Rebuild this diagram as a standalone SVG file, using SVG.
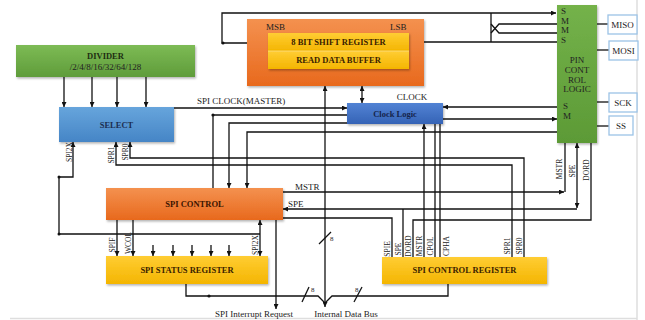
<svg xmlns="http://www.w3.org/2000/svg" width="645" height="320" viewBox="0 0 645 320">
<defs>
<linearGradient id="gGreen" x1="0" y1="0" x2="0" y2="1"><stop offset="0" stop-color="#7dbb55"/><stop offset="1" stop-color="#5f9c3a"/></linearGradient>
<linearGradient id="gPin" x1="0" y1="0" x2="0" y2="1"><stop offset="0" stop-color="#74b24a"/><stop offset="1" stop-color="#5c9a36"/></linearGradient>
<linearGradient id="gBlue" x1="0" y1="0" x2="0" y2="1"><stop offset="0" stop-color="#67a5dc"/><stop offset="1" stop-color="#4585c6"/></linearGradient>
<linearGradient id="gBlue2" x1="0" y1="0" x2="0" y2="1"><stop offset="0" stop-color="#5283d4"/><stop offset="1" stop-color="#3563b6"/></linearGradient>
<linearGradient id="gOrange" x1="0" y1="0" x2="0" y2="1"><stop offset="0" stop-color="#f4914f"/><stop offset="1" stop-color="#e8691d"/></linearGradient>
<linearGradient id="gYellow" x1="0" y1="0" x2="0" y2="1"><stop offset="0" stop-color="#ffcd34"/><stop offset="1" stop-color="#f4b500"/></linearGradient>
<filter id="sh" x="-10%" y="-10%" width="120%" height="130%"><feDropShadow dx="1" dy="1.5" stdDeviation="1" flood-color="#000" flood-opacity="0.3"/></filter>
<marker id="ah" viewBox="0 0 8 8" refX="8" refY="4" markerWidth="5" markerHeight="5" markerUnits="userSpaceOnUse" orient="auto-start-reverse"><path d="M0,0 L8,4 L0,8 z" fill="#111"/></marker>
</defs>
<style>
.ln{fill:none;stroke:#111;stroke-width:1.3}
.ar{marker-end:url(#ah)}
.ar2{marker-start:url(#ah);marker-end:url(#ah)}
.pg{fill:none;stroke:#dedede;stroke-width:1.5}
.t{font-family:"Liberation Serif","Times New Roman",serif;font-size:9px;fill:#222}
.tb{font-family:"Liberation Serif","Times New Roman",serif;font-size:8.5px;font-weight:bold;text-anchor:middle}
.tr{font-family:"Liberation Serif","Times New Roman",serif;font-size:7.5px;fill:#222;text-anchor:middle}
.c{text-anchor:middle}
.dot{fill:#111}
.pinbox{fill:#fff;stroke:#9cc3e6;stroke-width:1.3}
</style>
<rect width="645" height="320" fill="#fff"/>
<line class="pg" x1="637" y1="0" x2="637" y2="320"/>
<line class="pg" x1="10" y1="318.5" x2="637" y2="318.5"/>

<g id="connectors">
<!-- divider to select -->
<path class="ln ar" d="M64,77 V107"/>
<path class="ln ar" d="M92,77 V107"/>
<path class="ln ar" d="M117,77 V107"/>
<path class="ln ar" d="M146,77 V107"/>
<!-- select / spi control to clock logic -->
<path class="ln ar" d="M174,108 H347"/>
<path class="ln" d="M347,115 H213 V188"/>
<circle class="dot" cx="213" cy="115" r="1.6"/>
<path class="ln ar" d="M347,123 H229 V188"/>
<path class="ln ar" d="M557,132 H247 V188"/>
<!-- pin control to/from clock logic -->
<path class="ln ar" d="M557,107 H443"/>
<path class="ln ar" d="M443,119 H557"/>
<!-- clock logic to shift register -->
<path class="ln ar2" d="M362,103 V86"/>
<!-- internal data bus -->
<path class="ln ar2" d="M325,307 V86"/>
<path class="ln" d="M186,284 V296 H318 L325,303"/>
<path class="ln" d="M448,284 V296 H332 L325,303"/>
<circle class="dot" cx="209" cy="296" r="1.6"/>
<path class="ln" d="M302,302 L309,287"/>
<path class="ln" d="M354,302 L362,287"/>
<path class="ln" d="M319,244 L331,232"/>
<!-- shift register loop and pin S/M lines -->
<path class="ln ar" d="M268,43 H222 V13 H556"/>
<circle class="dot" cx="223" cy="43" r="1.5"/>
<path class="ln" d="M491,13 V42"/>
<path class="ln ar" d="M557,42 H409"/>
<path class="ln" d="M557,24 H499 L491,33"/>
<path class="ln" d="M557,33 H499 L491,24"/>
<!-- pins -->
<path class="ln" d="M597,24 H608"/>
<path class="ln" d="M597,50 H609"/>
<path class="ln" d="M597,102 H609"/>
<path class="ln" d="M597,126 H609"/>
<!-- control register to clock logic -->
<path class="ln ar" d="M424,257 V124"/>
<path class="ln" d="M435,257 V124"/>
<path class="ln" d="M440,257 V124"/>
<!-- SPR1 / SPR0 to select -->
<path class="ln ar" d="M512,257 V165 H116 V142"/>
<path class="ln ar" d="M524,257 V158 H130 V142"/>
<!-- SPI2X -->
<path class="ln ar" d="M260,234 H59 V177 H73 V142"/>
<circle class="dot" cx="59" cy="234" r="1.5"/>
<circle class="dot" cx="59" cy="177" r="1.5"/>
<path class="ln ar2" d="M260,256 V220"/>
<!-- SPIF WCOL -->
<path class="ln ar" d="M117,220 V256"/>
<path class="ln ar" d="M133,220 V256"/>
<path class="ln ar" d="M153,245 V256"/>
<path class="ln ar" d="M173,245 V256"/>
<path class="ln ar" d="M192,245 V256"/>
<path class="ln ar" d="M211,245 V256"/>
<path class="ln ar" d="M229,245 V256"/>
<!-- interrupt -->
<path class="ln ar" d="M276,220 V309"/>
<!-- MSTR -->
<path class="ln ar" d="M283,192 H564"/>
<path class="ln" d="M565,192 V143"/>
<!-- SPE -->
<path class="ln ar" d="M577,209 H283"/>
<path class="ln ar2" d="M577,208 V143"/>
<path class="ln" d="M403,257 V209"/>
<!-- SPIE -->
<path class="ln" d="M283,218 H392 V257"/>
<!-- DORD -->
<path class="ln" d="M413,257 V220 H591 V143"/>
</g>

<g id="labels">
<text class="t" x="197" y="104">SPI CLOCK(MASTER)</text>
<text class="t c" x="412" y="100">CLOCK</text>
<text class="t" x="295" y="190">MSTR</text>
<text class="t" x="288" y="207">SPE</text>
<text class="t c" x="254" y="317">SPI Interrupt Request</text>
<text class="t c" x="346" y="317">Internal Data Bus</text>
<text class="t" x="311" y="292" style="font-size:7px">8</text>
<text class="t" x="355" y="292" style="font-size:7px">8</text>
<text class="t" x="330" y="241" style="font-size:7px">8</text>
<text class="tr" transform="translate(72,152) rotate(-90)">SPI2X</text>
<text class="tr" transform="translate(114,155) rotate(-90)">SPR1</text>
<text class="tr" transform="translate(128,152) rotate(-90)">SPR0</text>
<text class="tr" transform="translate(115,245) rotate(-90)">SPIF</text>
<text class="tr" transform="translate(131,243) rotate(-90)">WCOL</text>
<text class="tr" transform="translate(258,245) rotate(-90)">SPI2X</text>
<text class="tr" transform="translate(390,249) rotate(-90)">SPIE</text>
<text class="tr" transform="translate(401,249) rotate(-90)">SPE</text>
<text class="tr" transform="translate(411,246) rotate(-90)">DORD</text>
<text class="tr" transform="translate(422,246) rotate(-90)">MSTR</text>
<text class="tr" transform="translate(433,246) rotate(-90)">CPOL</text>
<text class="tr" transform="translate(449,246) rotate(-90)">CPHA</text>
<text class="tr" transform="translate(510,246) rotate(-90)">SPR1</text>
<text class="tr" transform="translate(522,246) rotate(-90)">SPR0</text>
<text class="tr" transform="translate(562,169) rotate(-90)">MSTR</text>
<text class="tr" transform="translate(575,171) rotate(-90)">SPE</text>
<text class="tr" transform="translate(589,170) rotate(-90)">DORD</text>
</g>

<g id="divider">
<rect x="16" y="45" width="179" height="32" fill="url(#gGreen)" filter="url(#sh)"/>
<text class="tb" x="105.5" y="59" fill="#1e2e12">DIVIDER</text>
<text class="t c" x="105.5" y="70" fill="#1e2e12">/2/4/8/16/32/64/128</text>
</g>

<g id="select">
<rect x="59" y="107" width="115" height="35" fill="url(#gBlue)" filter="url(#sh)"/>
<text class="tb" x="116.5" y="128" fill="#1c2d4f">SELECT</text>
</g>

<g id="shift-register">
<rect x="247" y="19" width="177" height="67" fill="url(#gOrange)" filter="url(#sh)"/>
<text class="t" x="266" y="30" fill="#3a1400">MSB</text>
<text class="t" x="390" y="30" fill="#3a1400">LSB</text>
<rect x="268" y="33" width="141" height="18" fill="url(#gYellow)" filter="url(#sh)"/>
<text class="tb" x="338.5" y="45" fill="#3a2200">8 BIT SHIFT REGISTER</text>
<rect x="268" y="51" width="141" height="18" fill="url(#gYellow)" filter="url(#sh)"/>
<line x1="268" y1="51" x2="409" y2="51" stroke="#fbe08a" stroke-width="0.8"/>
<text class="tb" x="338.5" y="63" fill="#3a2200">READ DATA BUFFER</text>
</g>

<g id="clock-logic">
<rect x="347" y="103" width="96" height="21" fill="url(#gBlue2)" filter="url(#sh)"/>
<text class="tb" x="395" y="117" fill="#15244a">Clock Logic</text>
</g>

<g id="pin-control">
<rect x="557" y="5" width="40" height="138" fill="url(#gPin)" filter="url(#sh)"/>
<text class="t" x="561" y="14" fill="#1e2e12">S</text>
<text class="t" x="561" y="24" fill="#1e2e12">M</text>
<text class="t" x="561" y="33" fill="#1e2e12">M</text>
<text class="t" x="561" y="43" fill="#1e2e12">S</text>
<text class="t c" x="577" y="63" fill="#1e2e12">PIN</text>
<text class="t c" x="577" y="73" fill="#1e2e12">CONT</text>
<text class="t c" x="577" y="83" fill="#1e2e12">ROL</text>
<text class="t c" x="577" y="92" fill="#1e2e12">LOGIC</text>
<text class="t" x="563" y="109" fill="#1e2e12">S</text>
<text class="t" x="563" y="119" fill="#1e2e12">M</text>
</g>

<g id="miso"><rect class="pinbox" x="608" y="15" width="29" height="19"/><text class="t c" x="622.5" y="28">MISO</text></g>
<g id="mosi"><rect class="pinbox" x="609" y="41" width="29" height="19"/><text class="t c" x="623.5" y="54">MOSI</text></g>
<g id="sck"><rect class="pinbox" x="609" y="93" width="28" height="19"/><text class="t c" x="623" y="106">SCK</text></g>
<g id="ss"><rect class="pinbox" x="609" y="116" width="24" height="19"/><text class="t c" x="621" y="129">SS</text></g>

<g id="spi-control">
<rect x="106" y="188" width="177" height="32" fill="url(#gOrange)" filter="url(#sh)"/>
<text class="tb" x="194.5" y="207" fill="#3a1400">SPI CONTROL</text>
</g>

<g id="spi-status-register">
<rect x="106" y="256" width="162" height="28" fill="url(#gYellow)" filter="url(#sh)"/>
<text class="tb" x="187" y="273" fill="#3a2200">SPI STATUS REGISTER</text>
</g>

<g id="spi-control-register">
<rect x="382" y="257" width="165" height="27" fill="url(#gYellow)" filter="url(#sh)"/>
<text class="tb" x="464.5" y="273" fill="#3a2200">SPI CONTROL REGISTER</text>
</g>
</svg>
